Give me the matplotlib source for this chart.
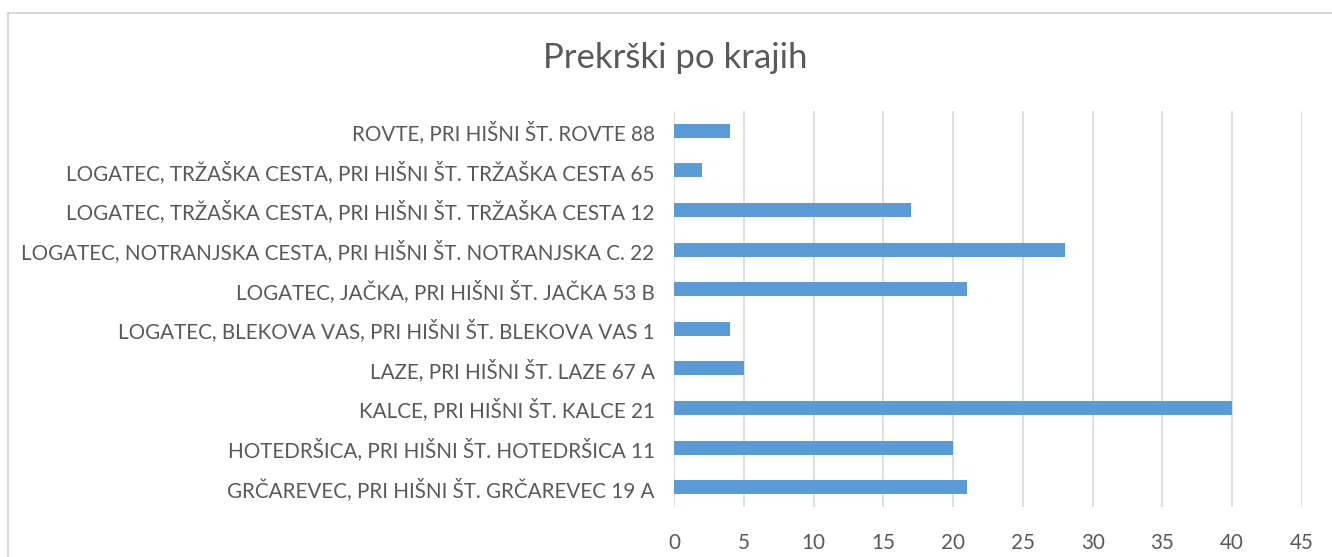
import matplotlib
matplotlib.use("Agg")
import matplotlib.pyplot as plt

categories = [
    "GRČAREVEC, PRI HIŠNI ŠT. GRČAREVEC 19 A",
    "HOTEDRŠICA, PRI HIŠNI ŠT. HOTEDRŠICA 11",
    "KALCE, PRI HIŠNI ŠT. KALCE 21",
    "LAZE, PRI HIŠNI ŠT. LAZE 67 A",
    "LOGATEC, BLEKOVA VAS, PRI HIŠNI ŠT. BLEKOVA VAS 1",
    "LOGATEC, JAČKA, PRI HIŠNI ŠT. JAČKA 53 B",
    "LOGATEC, NOTRANJSKA CESTA, PRI HIŠNI ŠT. NOTRANJSKA C. 22",
    "LOGATEC, TRŽAŠKA CESTA, PRI HIŠNI ŠT. TRŽAŠKA CESTA 12",
    "LOGATEC, TRŽAŠKA CESTA, PRI HIŠNI ŠT. TRŽAŠKA CESTA 65",
    "ROVTE, PRI HIŠNI ŠT. ROVTE 88",
]
values = [21, 20, 40, 5, 4, 21, 28, 17, 2, 4]
xticks = [0, 5, 10, 15, 20, 25, 30, 35, 40, 45]
title = "Prekrški po krajih"

W, H = 1332, 557
fig = plt.figure(figsize=(W / 100, H / 100), dpi=100)
fig.patch.set_facecolor("white")

# outer chart border (cropped at right/bottom)
fig.add_artist(plt.Line2D([8 / W, 8 / W], [0, 1 - 13 / H], color="#d9d9d9", lw=1.5,
                          transform=fig.transFigure))
fig.add_artist(plt.Line2D([8 / W, 1], [1 - 13 / H, 1 - 13 / H], color="#d9d9d9", lw=1.5,
                          transform=fig.transFigure))

left, right, top, bottom = 674 / W, 1302 / W, 1 - 111 / H, 1 - 507 / H
ax = fig.add_axes([left, bottom, right - left, top - bottom])

ax.barh(range(len(categories)), values, height=0.35, color="#5b9bd5", zorder=3)
ax.set_xlim(0, 45)
ax.set_ylim(-0.5, len(categories) - 0.5)
ax.set_xticks(xticks)
ax.set_yticks(range(len(categories)))
ax.set_yticklabels(categories)
ax.grid(axis="x", color="#d9d9d9", lw=1.2, zorder=0)
ax.set_axisbelow(True)
for s in ax.spines.values():
    s.set_visible(False)
ax.tick_params(axis="both", length=0, colors="#595959", labelsize=14.85)
ax.tick_params(axis="y", pad=14)
ax.tick_params(axis="x", pad=19)
for lbl in ax.get_xticklabels() + ax.get_yticklabels():
    lbl.set_fontfamily("Lato")

fig.text(675 / W, 1 - 58 / H, title, ha="center", va="center", fontsize=25,
         color="#595959", fontfamily="Lato")

fig.savefig("out.png", dpi=100, facecolor="white")
